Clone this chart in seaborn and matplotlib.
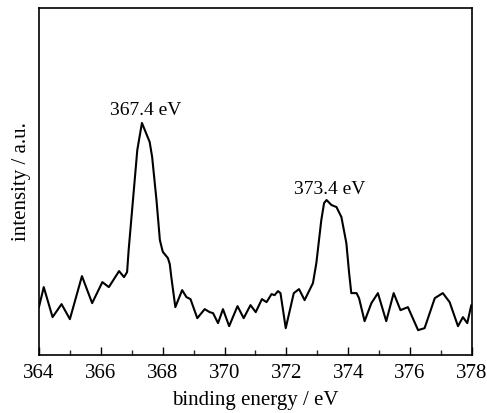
import matplotlib
matplotlib.use("Agg")
import matplotlib.pyplot as plt
import seaborn as sns
import pandas as pd
from matplotlib.ticker import MultipleLocator

energy = [364.00, 364.155, 364.44, 364.73, 365.00, 365.39, 365.72, 366.05, 366.26, 366.59,
          366.75, 366.85, 366.90, 367.04, 367.18, 367.33, 367.58, 367.66, 367.80, 367.91,
          367.99, 368.01, 368.17, 368.23, 368.28, 368.41, 368.63, 368.77, 368.90, 369.12,
          369.36, 369.52, 369.63, 369.79, 369.95, 370.15, 370.42, 370.62, 370.84, 371.01,
          371.21, 371.36, 371.52, 371.62, 371.73, 371.81, 371.98, 372.24, 372.41, 372.59,
          372.86, 372.97, 373.13, 373.22, 373.30, 373.46, 373.62, 373.78, 373.94, 374.03,
          374.10, 374.27, 374.35, 374.53, 374.75, 374.96, 375.23, 375.47, 375.69, 375.93,
          376.26, 376.47, 376.80, 377.06, 377.28, 377.55, 377.71, 377.85, 377.98]
intensity = [48, 68, 38, 51, 36, 79, 52, 73, 68, 84,
             78, 83, 105, 155, 205, 232, 213, 198, 155, 115,
             105, 103, 97, 91, 78, 48, 65, 58, 56, 37,
             46, 43, 42, 32, 46, 29, 49, 37, 50, 43,
             56, 53, 61, 60, 64, 62, 27, 62, 66, 55,
             72, 92, 135, 152, 155, 150, 148, 138, 112, 82,
             62, 62, 57, 34, 52, 62, 34, 62, 45, 48,
             25, 27, 57, 62, 53, 29, 38, 32, 50]
peak_labels = ["367.4 eV", "373.4 eV"]
label_pos = [367.45, 373.40]
label_height = [240, 161]

df = pd.DataFrame({"energy": energy, "intensity": intensity})

sns.set_theme(style="ticks")
plt.rcParams["font.family"] = ["Liberation Serif", "DejaVu Serif"]

fig = plt.figure(figsize=(4.87, 4.13), dpi=100)
ax = fig.add_axes([0.080, 0.140, 0.889, 0.841])
sns.lineplot(data=df, x="energy", y="intensity", color="black", linewidth=1.5, ax=ax, sort=False)

for lab, xp, h in zip(peak_labels, label_pos, label_height):
    ax.text(xp, h, lab, ha="center", va="baseline", fontsize=14, color="black")

ax.set_xlim(364, 378)
ax.set_ylim(0, 347)
ax.xaxis.set_major_locator(MultipleLocator(2))
ax.xaxis.set_minor_locator(MultipleLocator(1))
ax.set_yticks([])
ax.tick_params(axis="x", which="major", direction="in", length=6, width=1, labelsize=15, colors="black", pad=6)
ax.tick_params(axis="x", which="minor", direction="in", length=3.5, width=1)
for s in ax.spines.values():
    s.set_visible(True)
    s.set_color("black")
    s.set_linewidth(1.2)
ax.set_xlabel("binding energy / eV", fontsize=15, color="black", labelpad=6)
ax.set_ylabel("intensity / a.u.", fontsize=15, color="black", labelpad=6)

fig.savefig("out.png", dpi=100)
